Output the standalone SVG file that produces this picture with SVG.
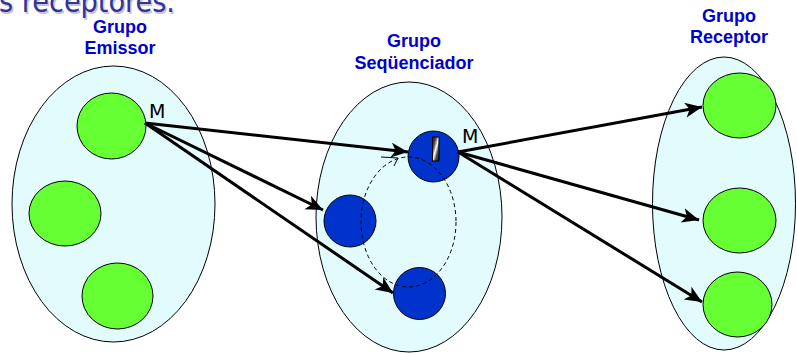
<svg xmlns="http://www.w3.org/2000/svg" width="797" height="354" viewBox="0 0 797 354">
<style>
.grp{fill:#e2fbfd;stroke:#000;stroke-width:1}
.g{fill:#66ff33;stroke:#000;stroke-width:1}
.b{fill:#0033cc;stroke:#000;stroke-width:1}
.lbl{font-family:"Liberation Sans",Arial,sans-serif;font-weight:bold;font-size:18px;fill:#0000cc;text-anchor:middle}
.m{font-family:"DejaVu Sans",Verdana,sans-serif;font-size:19px;fill:#000}
.title{font-family:"DejaVu Sans",Verdana,sans-serif;font-size:30px}
.arr{stroke:#000;stroke-width:3;fill:none;marker-end:url(#ah)}
</style>
<defs>
<marker id="ah" markerUnits="userSpaceOnUse" markerWidth="20" markerHeight="16" refX="17" refY="7.5" orient="auto">
<path d="M0,0 L17,7.5 L0,15 L4.5,7.5 z" fill="#000"/>
</marker>
<linearGradient id="stripe" x1="0" y1="0" x2="1" y2="1">
<stop offset="0" stop-color="#111"/>
<stop offset="0.3" stop-color="#555"/>
<stop offset="0.5" stop-color="#fff"/>
<stop offset="0.7" stop-color="#555"/>
<stop offset="1" stop-color="#111"/>
</linearGradient>
</defs>
<text class="title" x="0.5" y="13.5" textLength="176" lengthAdjust="spacingAndGlyphs" fill="#c4c4d4">s receptores.</text>
<text class="title" x="-1" y="12" textLength="176" lengthAdjust="spacingAndGlyphs" fill="#333399">s receptores.</text>
<g id="grupo-emissor">
<ellipse class="grp" cx="113.5" cy="204" rx="101.5" ry="138"/>
<text class="lbl" x="120" y="33">Grupo</text>
<text class="lbl" x="120" y="54">Emissor</text>
</g>
<g id="grupo-sequenciador">
<ellipse class="grp" cx="409" cy="217" rx="93" ry="135"/>
<text class="lbl" x="414" y="47">Grupo</text>
<text class="lbl" x="414" y="69">Seqüenciador</text>
</g>
<g id="grupo-receptor">
<ellipse class="grp" cx="724" cy="203.5" rx="71.5" ry="146.5"/>
<text class="lbl" x="729" y="22">Grupo</text>
<text class="lbl" x="729" y="43">Receptor</text>
</g>
<g id="emissor-1"><ellipse class="g" cx="111.5" cy="126" rx="34.5" ry="33"/><text class="m" x="149" y="118">M</text></g>
<g id="emissor-2"><ellipse class="g" cx="65" cy="213.5" rx="36" ry="32.5"/></g>
<g id="emissor-3"><ellipse class="g" cx="117.5" cy="296" rx="35.5" ry="33"/></g>
<g id="receptor-1"><ellipse class="g" cx="739.5" cy="105.5" rx="36.5" ry="32.5"/></g>
<g id="receptor-2"><ellipse class="g" cx="739.5" cy="220.5" rx="36.5" ry="32.5"/></g>
<g id="receptor-3"><ellipse class="g" cx="737.5" cy="304.5" rx="34.5" ry="32.5"/></g>
<g id="seq-1"><circle class="b" cx="433.5" cy="156.5" r="25.5"/><rect x="432.5" y="137" width="6.5" height="24" fill="url(#stripe)" stroke="#000" stroke-width="1"/><text class="m" x="462" y="143">M</text></g>
<g id="seq-2"><circle class="b" cx="350" cy="221" r="26"/></g>
<g id="seq-3"><circle class="b" cx="419.5" cy="293.5" r="26"/></g>
<g id="connectors">
<ellipse cx="408.5" cy="222" rx="47.5" ry="65" fill="none" stroke="#000" stroke-width="1" stroke-dasharray="4,3"/>
<polyline points="381,157 398,158 394,166" fill="none" stroke="#000" stroke-width="1"/>
<line class="arr" x1="145" y1="123" x2="408" y2="152"/>
<line class="arr" x1="145" y1="123" x2="323" y2="210"/>
<line class="arr" x1="145" y1="123" x2="393" y2="293"/>
<line class="arr" x1="458" y1="152" x2="702" y2="107"/>
<line class="arr" x1="458" y1="152" x2="699" y2="220"/>
<line class="arr" x1="458" y1="152" x2="702" y2="302"/>
</g>
</svg>
